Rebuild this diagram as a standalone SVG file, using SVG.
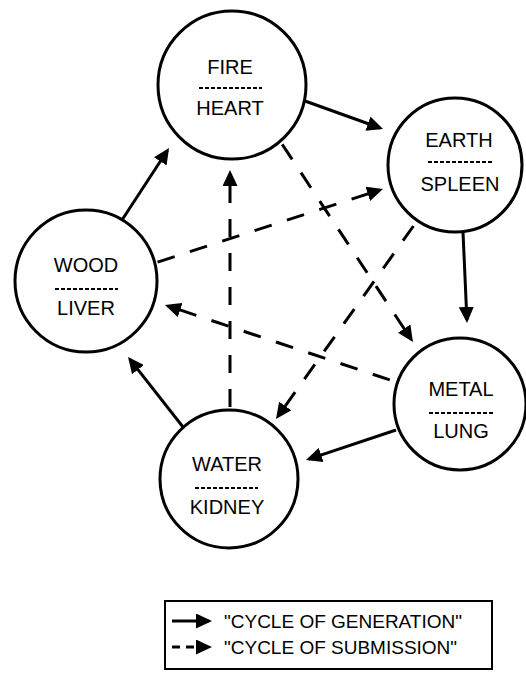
<svg xmlns="http://www.w3.org/2000/svg" width="526" height="674" viewBox="0 0 526 674">
<style>
.node{fill:#fff;stroke:#000;stroke-width:3}
.lbl{font-family:"Liberation Sans",Arial,sans-serif;font-size:20px;fill:#000;text-anchor:middle}
.sep{stroke:#000;stroke-width:2;stroke-dasharray:4 2}
.gen{fill:none;stroke:#000;stroke-width:3;marker-end:url(#ah)}
.sub{fill:none;stroke:#000;stroke-width:3;stroke-dasharray:18 16;stroke-dashoffset:22;marker-start:url(#ahs)}
.leg{font-family:"Liberation Sans",Arial,sans-serif;font-size:19px;fill:#000}
</style>
<defs>
<marker id="ah" markerUnits="userSpaceOnUse" markerWidth="16" markerHeight="15" refX="13" refY="7.5" orient="auto"><path d="M0,0 L16,7.5 L0,15 z" fill="#000"/></marker>
<marker id="ahs" markerUnits="userSpaceOnUse" markerWidth="16" markerHeight="15" refX="13" refY="7.5" orient="auto-start-reverse"><path d="M0,0 L16,7.5 L0,15 z" fill="#000"/></marker>
</defs>
<rect width="526" height="674" fill="#fff"/>
<g id="connectors">
<path class="gen" d="M305,101 L380.2,128"/>
<path class="gen" d="M463,232 L466.9,320"/>
<path class="gen" d="M396,430 L308.8,459.1"/>
<path class="gen" d="M183,427 L129.9,359.4"/>
<path class="gen" d="M122,220 L167.4,150.5"/>
<path class="sub" d="M411.3,339.5 L280,141"/>
<path class="sub" d="M380.1,189.9 L155,263"/>
<path class="sub" d="M277.7,416.6 L417,221"/>
<path class="sub" d="M167.8,305.9 L396,382"/>
<path class="sub" d="M230,173 L230,410"/>
</g>
<g id="fire">
<circle class="node" cx="232" cy="85" r="74"/>
<text class="lbl" x="230" y="74">FIRE</text>
<line class="sep" x1="199" y1="88" x2="262" y2="88"/>
<text class="lbl" x="230" y="115">HEART</text>
</g>
<g id="earth">
<circle class="node" cx="455" cy="165" r="67"/>
<text class="lbl" x="459" y="147">EARTH</text>
<line class="sep" x1="428" y1="162" x2="492" y2="162"/>
<text class="lbl" x="460" y="191">SPLEEN</text>
</g>
<g id="wood">
<circle class="node" cx="86" cy="281" r="71"/>
<text class="lbl" x="86" y="272">WOOD</text>
<line class="sep" x1="55" y1="289" x2="118" y2="289"/>
<text class="lbl" x="86" y="315">LIVER</text>
</g>
<g id="metal">
<circle class="node" cx="460" cy="404" r="66"/>
<text class="lbl" x="461" y="396">METAL</text>
<line class="sep" x1="429" y1="413" x2="493" y2="413"/>
<text class="lbl" x="461" y="438">LUNG</text>
</g>
<g id="water">
<circle class="node" cx="229" cy="479" r="69"/>
<text class="lbl" x="227" y="471">WATER</text>
<line class="sep" x1="195" y1="488" x2="258" y2="488"/>
<text class="lbl" x="227" y="514">KIDNEY</text>
</g>
<g id="legend">
<rect x="165" y="601" width="327" height="68" fill="none" stroke="#000" stroke-width="2"/>
<path d="M172,621 L209,621" fill="none" stroke="#000" stroke-width="3" marker-end="url(#ah)"/>
<path d="M172,647 L209,647" fill="none" stroke="#000" stroke-width="3" stroke-dasharray="8 6" marker-end="url(#ah)"/>
<text class="leg" x="224" y="628">"CYCLE OF GENERATION"</text>
<text class="leg" x="224" y="654">"CYCLE OF SUBMISSION"</text>
</g>
</svg>
